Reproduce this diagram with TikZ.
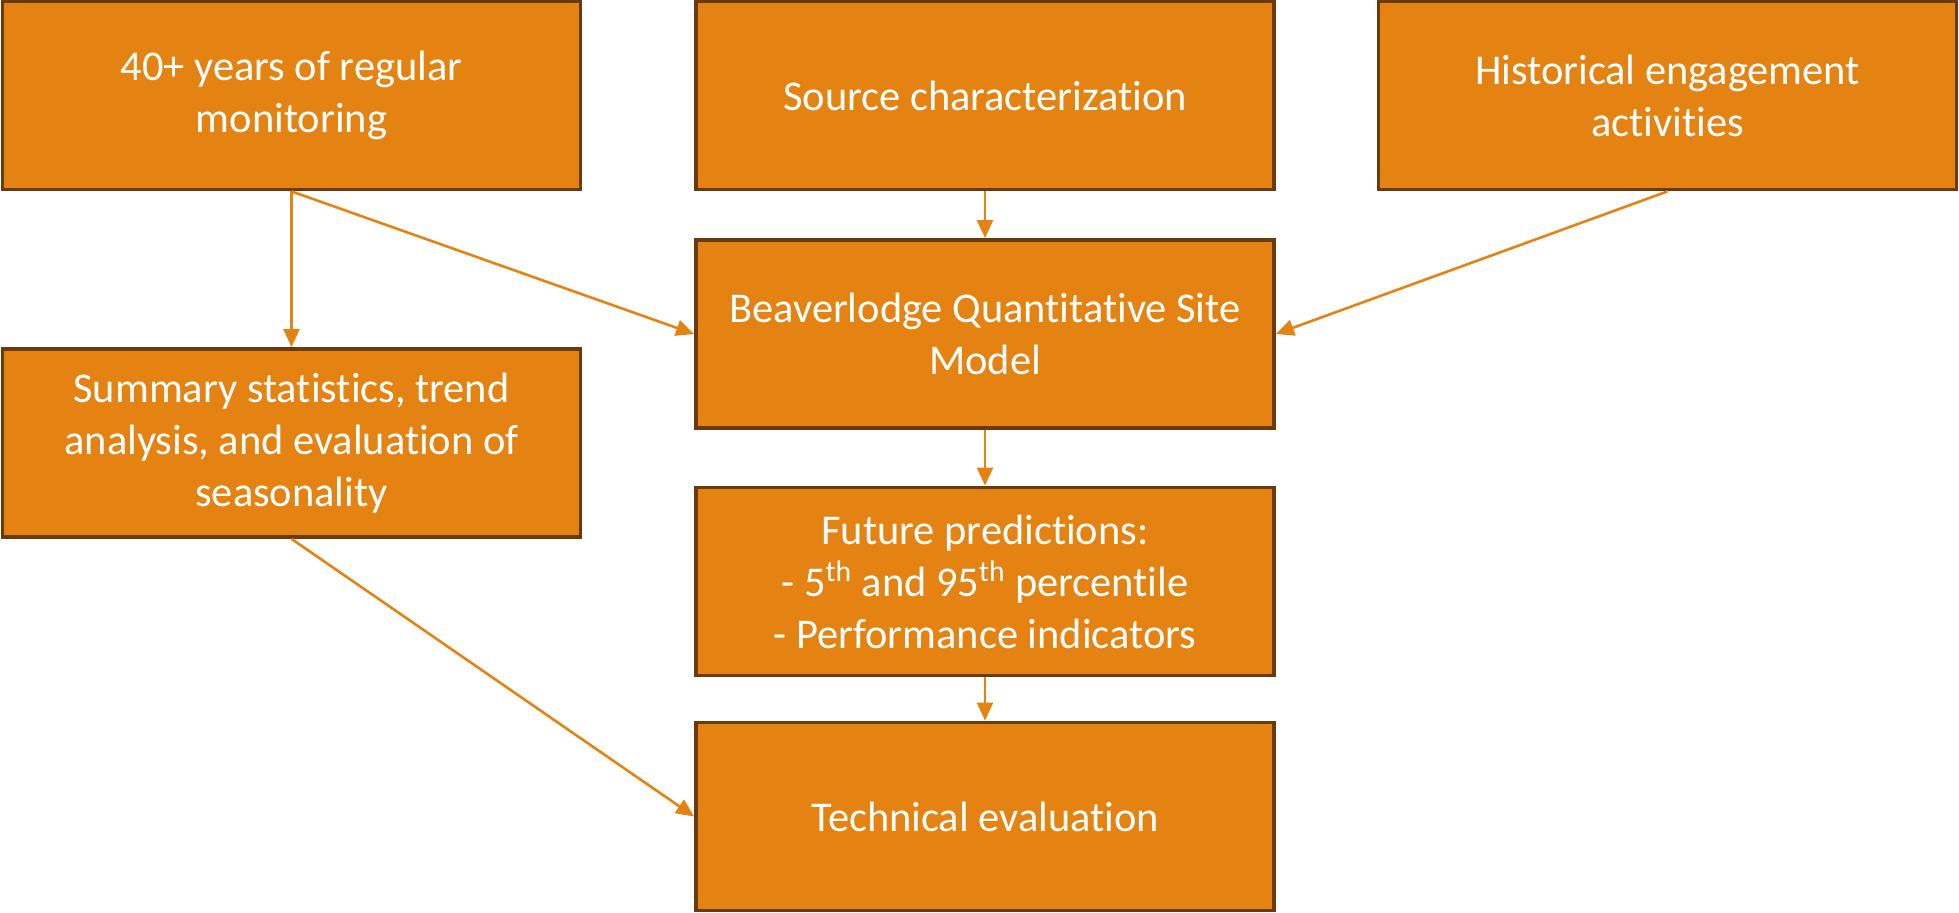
\documentclass[tikz,border=0pt]{standalone}
\usepackage{fontspec}
\setmainfont{Carlito}[Ligatures=NoCommon]
\usepackage{xcolor}
\usepackage{tikz}
\usetikzlibrary{positioning, arrows.meta, calc}

\definecolor{boxfill}{HTML}{E48312}
\definecolor{boxline}{HTML}{6B3A0A}

\tikzset{
	stagebox/.style={rectangle, draw=boxline, line width=1.9pt, fill=boxfill,
		minimum width=289pt, minimum height=94pt, align=center,
		text=white, font=\fontsize{21.2}{26}\selectfont},
	flow/.style={draw=boxfill, line width=1.3pt, -{Triangle[length=9pt,width=8pt]}}
}

\begin{document}
\begin{tikzpicture}[x=0.5pt, y=-0.5pt]
	\useasboundingbox (0,0) rectangle (1959,913);
	
	% Top row of inputs
	\node[stagebox] (monitor) at (291.5,95.5) {40+ years of regular\\monitoring};
	\node[stagebox] (source) at (985,95.5) {Source characterization};
	\node[stagebox] (engage) at (1667.5,95.5) {Historical engagement\\activities};
	
	% Middle column
	\node[stagebox] (model) at (985,334) {Beaverlodge Quantitative Site\\Model};
	\node[stagebox] (predict) at (985,581.5) {Future predictions:\\- 5\textsuperscript{th} and 95\textsuperscript{th} percentile\\- Performance indicators};
	\node[stagebox] (evaluate) at (985,816.5) {Technical evaluation};
	
	% Left column
	\node[stagebox] (stats) at (291.5,443) {Summary statistics, trend\\analysis, and evaluation of\\seasonality};
	
	% Connectors
	\draw[flow] (monitor.south) -- (stats.north);
	\draw[flow] (monitor.south) -- (model.west);
	\draw[flow] (source.south) -- (model.north);
	\draw[flow] (engage.south) -- (model.east);
	\draw[flow] (model.south) -- (predict.north);
	\draw[flow] (predict.south) -- (evaluate.north);
	\draw[flow] (stats.south) -- (evaluate.west);
	
\end{tikzpicture}
\end{document}
